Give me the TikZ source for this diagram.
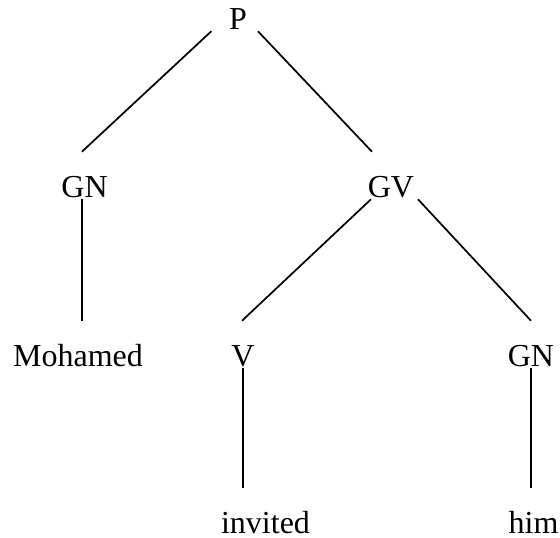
\documentclass[tikz,border=0pt]{standalone}
\usepackage{fontspec}
\setmainfont{Liberation Serif}
\usetikzlibrary{positioning}

\begin{document}
\begin{tikzpicture}[on grid,
    every node/.style={font=\fontsize{24}{28}\selectfont, text height=16pt, text depth=0pt,
      inner xsep=0pt, inner ysep=1.5pt},
    branch/.style={line width=1.3pt}]
     \node (P) {P};
     \node (GN1) [below left=126pt and 115.1pt of P] {GN};
     \node (GV) [below right=126pt and 114.75pt of P] {GV};
     \node (Mohamed) [below left=126.75pt and 4.9pt of GN1] {Mohamed};
     \node (V) [below left=126.75pt and 111pt of GV] {V};
     \node (GN2) [below right=126.75pt and 105pt of GV] {GN};
     \node (invited) [below right=125.25pt and 16.9pt of V] {invited};
     \node (him) [below right=125.25pt and 1.9pt of GN2] {him};
     \useasboundingbox ([shift={(-178.5pt,21.75pt)}]P.base) rectangle +(420pt,-402.75pt);
      \path[branch]
      ([xshift=-20pt]P.south) edge ([xshift=-2pt,yshift=16.25pt]GN1.north)
      ([xshift=15pt]P.south) edge ([xshift=-14.25pt,yshift=16.25pt]GV.north)
      ([xshift=-1.9pt]GN1.south) edge ([xshift=3pt,yshift=16.25pt]Mohamed.north)
      ([xshift=-15pt]GV.south) edge ([xshift=-0.75pt,yshift=16.25pt]V.north)
      ([xshift=20.25pt]GV.south) edge ([yshift=16.25pt]GN2.north)
      (V.south) edge ([xshift=-16.9pt,yshift=16.25pt]invited.north)
      (GN2.south) edge ([xshift=-1.9pt,yshift=16.25pt]him.north);
    \end{tikzpicture}
\end{document}
